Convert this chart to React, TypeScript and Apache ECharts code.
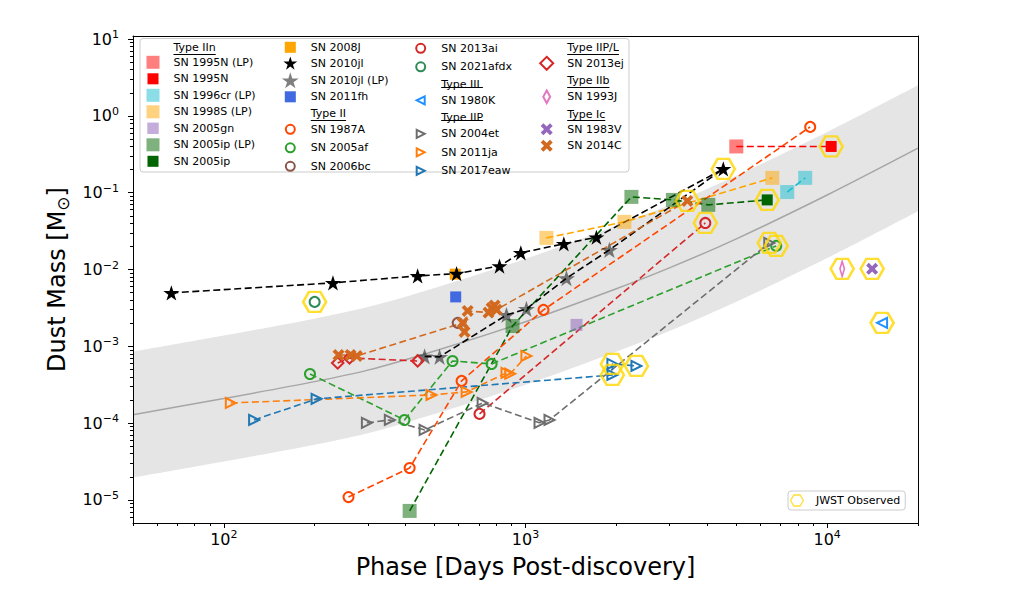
import React, { useEffect, useRef } from "react";
import * as echarts from "echarts";

const FONT = "'DejaVu Sans', 'Liberation Sans', sans-serif";

// ---------------- data: [days post-discovery, dust mass (Msun)] ----------------
const sn1995nLP = [[4997, 0.4]];
const sn1995n = [[10308, 0.4]];
const sn1996crLP = [[7371, 0.102], [8455, 0.156]];
const sn1998sLP = [[1173, 0.0258], [2127, 0.0417], [6577, 0.156]];
const sn2005gn = [[1476, 0.0019]];
const sn2005ipLP = [[413, 7.2e-6], [906, 0.00184], [2244, 0.0882], [3080, 0.0806], [4036, 0.0694]];
const sn2005ip = [[6327, 0.0806]];
const sn2008j = [[585, 0.0087]];
const sn2010jl = [[67, 0.00496], [230, 0.0067], [439, 0.00826], [591, 0.00885], [820, 0.0111], [965, 0.0165], [1340, 0.0216], [1718, 0.0263], [4525, 0.204]];
const sn2010jlLP = [[463, 7.4e-4], [519, 7.3e-4], [865, 0.00256], [1007, 0.00307], [1367, 0.0077], [1897, 0.018]];
const sn2011fh = [[587, 0.0044]];
const sn1987a = [[259, 1.09e-5], [413, 2.61e-5], [614, 3.55e-4], [1147, 0.00298], [8784, 0.719]];
const sn2005af = [[193, 4.37e-4], [397, 1.1e-4], [573, 6.45e-4], [772, 5.9e-4], [6777, 0.0203]];
const sn2006bc = [[596, 0.00202]];
const sn2013ai = [[704, 1.32e-4], [3945, 0.0404]];
const sn2021afdx = [[200, 0.00379]];
const sn1980k = [[15205, 0.00202]];
const sn2004et = [[298, 1.01e-4], [355, 1.1e-4], [463, 8.15e-5], [721, 1.83e-4], [1113, 1.01e-4], [1201, 1.1e-4], [6427, 0.0222]];
const sn2011ja = [[105.5, 1.83e-4], [488, 2.33e-4], [638, 2.55e-4], [865, 4.5e-4], [890, 4.4e-4], [1007, 7.5e-4]];
const sn2017eaw = [[126, 1.1e-4], [203, 2.07e-4], [1941, 4.24e-4], [1941, 5.9e-4], [2332, 5.56e-4]];
const sn2013ej = [[238.5, 6.08e-4], [261, 7.06e-4], [439, 6.45e-4]];
const sn1993j = [[11212, 0.0102]];
const sn1983v = [[14092, 0.0102]];
const sn2014c = [[240, 7.7e-4], [263, 7.7e-4], [276, 7.5e-4], [619, 0.00202], [628, 0.00154], [643, 0.00289], [754, 0.00275], [772, 0.00316], [790, 0.0034], [802, 0.003], [3440, 0.0782]];
const jwstObserved = [[200, 0.00379], [4525, 0.204], [10308, 0.4], [6327, 0.0806], [3440, 0.0782], [3945, 0.0404], [6777, 0.0203], [6427, 0.0222], [11212, 0.0102], [14092, 0.0102], [15205, 0.00202], [1941, 4.24e-4], [1941, 5.9e-4], [2332, 5.56e-4]];

// grey model curve and band
const bandDays = [50, 100, 200, 300, 500, 1000, 2000, 3000, 5000, 10000, 20000];
const bandCenter = [1.29e-4, 2.09e-4, 3.47e-4, 4.9e-4, 8.71e-4, 2.09e-3, 5.62e-3, 1.05e-2, 2.51e-2, 9.33e-2, 0.38];
const bandUpper = [8.51e-4, 1.38e-3, 2.29e-3, 3.24e-3, 5.75e-3, 1.38e-2, 3.72e-2, 6.92e-2, 0.166, 0.617, 2.51];
const bandLower = [1.95e-5, 3.16e-5, 5.25e-5, 7.41e-5, 1.32e-4, 3.16e-4, 8.51e-4, 1.58e-3, 3.8e-3, 1.41e-2, 5.75e-2];

// tick labels (powers of ten)
const xTickExps = [2, 3, 4];
const yTickExps = [-5, -4, -3, -2, -1, 0, 1];

// legend columns
const legendCol1 = ["Type IIn", "SN 1995N (LP)", "SN 1995N", "SN 1996cr (LP)", "SN 1998S (LP)", "SN 2005gn", "SN 2005ip (LP)", "SN 2005ip"];
const legendCol2 = ["SN 2008J", "SN 2010jl", "SN 2010jl (LP)", "SN 2011fh", "Type II", "SN 1987A", "SN 2005af", "SN 2006bc"];
const legendCol3 = ["SN 2013ai", "SN 2021afdx", "Type IIL", "SN 1980K", "Type IIP", "SN 2004et", "SN 2011ja", "SN 2017eaw"];
const legendCol4 = ["Type IIP/L", "SN 2013ej", "Type IIb", "SN 1993J", "Type Ic", "SN 1983V", "SN 2014C"];
const headings = ["Type IIn", "Type II", "Type IIL", "Type IIP", "Type IIP/L", "Type IIb", "Type Ic"];

// ---------------- helpers ----------------
const L = (v: number) => Math.log10(v);
const X_MIN = L(50);
const X_MAX = L(20000);
const Y_MIN = -5.3;
const Y_MAX = 1.04;

const SHAPES: Record<string, string> = {
  sq: "M-1 -1L1 -1L1 1L-1 1Z",
  circ: "M1 0A1 1 0 1 1 -1 0A1 1 0 1 1 1 0Z",
  star: "M0 -1L0.2245 -0.309L0.951 -0.309L0.363 0.118L0.588 0.809L0 0.382L-0.588 0.809L-0.363 0.118L-0.951 -0.309L-0.2245 -0.309Z",
  x: "M-0.55 -1L0 -0.45L0.55 -1L1 -0.55L0.45 0L1 0.55L0.55 1L0 0.45L-0.55 1L-1 0.55L-0.45 0L-1 -0.55Z",
  triR: "M-1 -1L1 0L-1 1Z",
  triL: "M1 -1L-1 0L1 1Z",
  diam: "M0 -1L1 0L0 1L-1 0Z",
  thin: "M0 -1L0.55 0L0 1L-0.55 0Z",
  hex: "M1 0L0.5 0.866L-0.5 0.866L-1 0L-0.5 -0.866L0.5 -0.866Z",
};

const HOLLOW = "rgba(0,0,0,0)";
const STYLES: Record<string, any> = {
  "SN 1995N (LP)": { sym: "sq", size: 14, fill: "rgba(255,0,0,0.5)", pad: 1.23 },
  "SN 1995N": { sym: "sq", size: 11, fill: "#ff0000", pad: 1.45 },
  "SN 1996cr (LP)": { sym: "sq", size: 14, fill: "rgba(23,190,207,0.5)", pad: 1.23 },
  "SN 1998S (LP)": { sym: "sq", size: 14, fill: "rgba(255,165,0,0.5)", pad: 1.23 },
  "SN 2005gn": { sym: "sq", size: 12, fill: "rgba(148,103,189,0.55)", pad: 1.4 },
  "SN 2005ip (LP)": { sym: "sq", size: 14, fill: "rgba(0,100,0,0.5)", pad: 1.23 },
  "SN 2005ip": { sym: "sq", size: 11, fill: "#006400", pad: 1.45 },
  "SN 2008J": { sym: "sq", size: 11, fill: "#ffa500", pad: 1.45 },
  "SN 2010jl": { sym: "star", size: 16, fill: "#000000", pad: 1.1 },
  "SN 2010jl (LP)": { sym: "star", size: 17, fill: "rgba(0,0,0,0.5)", pad: 0 },
  "SN 2011fh": { sym: "sq", size: 11, fill: "#4169e1", pad: 1.45 },
  "SN 1987A": { sym: "circ", size: 10, fill: HOLLOW, stroke: "#ff4500", bw: 2, pad: 1.78 },
  "SN 2005af": { sym: "circ", size: 10, fill: HOLLOW, stroke: "#2ca02c", bw: 2, pad: 1.78 },
  "SN 2006bc": { sym: "circ", size: 10, fill: HOLLOW, stroke: "#8c564b", bw: 2, pad: 1.78 },
  "SN 2013ai": { sym: "circ", size: 10, fill: HOLLOW, stroke: "#d62728", bw: 2, pad: 1.78 },
  "SN 2021afdx": { sym: "circ", size: 10, fill: HOLLOW, stroke: "#2e8b57", bw: 2, pad: 1.78 },
  "SN 1980K": { sym: "triL", size: 10, fill: HOLLOW, stroke: "#1e90ff", bw: 2, pad: 2 },
  "SN 2004et": { sym: "triR", size: 10, fill: HOLLOW, stroke: "#6e6e6e", bw: 2, pad: 2 },
  "SN 2011ja": { sym: "triR", size: 10, fill: HOLLOW, stroke: "#ff7f0e", bw: 2, pad: 2 },
  "SN 2017eaw": { sym: "triR", size: 10, fill: HOLLOW, stroke: "#1f77b4", bw: 2, pad: 2 },
  "SN 2013ej": { sym: "diam", size: 11.5, fill: HOLLOW, stroke: "#d62728", bw: 2, pad: 1.23 },
  "SN 1993J": { sym: "thin", size: [8, 15], fill: HOLLOW, stroke: "#e377c2", bw: 2, pad: 1.28 },
  "SN 1983V": { sym: "x", size: 12, fill: "#9467bd", pad: 1.33 },
  "SN 2014C": { sym: "x", size: 12, fill: "#d2691e", pad: 1.33 },
};

const symOf = (st: any) => (st.sym === "circ" ? "circle" : "path://" + SHAPES[st.sym]);
const padIcon = (d: string, p: number) => (p > 0 ? `path://M${-p} ${-p}M${p} ${p}${d}` : "path://" + d);

function makeSeries(name: string, pts: number[][], lineColor?: string, hidden?: number[]) {
  const st = STYLES[name];
  return {
    type: lineColor ? "line" : "scatter",
    name,
    data: pts.map((p, i) => {
      const v = [L(p[0]), L(p[1])];
      return hidden && hidden.indexOf(i) >= 0 ? { value: v, symbol: "none" } : v;
    }),
    symbol: symOf(st),
    symbolSize: st.size,
    symbolKeepAspect: true,
    itemStyle: { color: st.fill, borderColor: st.stroke || st.fill, borderWidth: st.bw || 0, opacity: 1 },
    lineStyle: lineColor ? { color: lineColor, width: 1.6, type: [7, 3.5] } : undefined,
    emphasis: { disabled: true },
    legendHoverLink: false,
    silent: true,
    z: 2,
  };
}

function legendItem(name: string) {
  const st = STYLES[name];
  if (!st) return { name, icon: "none" };
  return {
    name,
    icon: padIcon(SHAPES[st.sym], st.pad),
    itemStyle: { color: st.fill, borderColor: st.stroke || st.fill, borderWidth: st.bw || 0 },
  };
}

const supFmt = (v: number) => {
  const n = Math.round(v);
  return "{b|10}{s|" + (n < 0 ? "\u2212" + -n : String(n)) + "}";
};
const labelRich = {
  b: { fontSize: 16, fontFamily: FONT, color: "#000", lineHeight: 20 },
  s: { fontSize: 11, fontFamily: FONT, color: "#000", lineHeight: 13, verticalAlign: "top" },
};

function bandLine(values: number[], fill: string | null, z: number, stroke?: string) {
  return {
    type: "line",
    data: bandDays.map((d, i) => [L(d), L(values[i])]),
    symbol: "none",
    smooth: 0.3,
    lineStyle: stroke ? { color: stroke, width: 1.5 } : { width: 0, opacity: 0 },
    areaStyle: fill ? { color: fill, opacity: 1, origin: "start" } : undefined,
    silent: true,
    emphasis: { disabled: true },
    z,
  };
}

function buildOption() {
  const xMajor = xTickExps.slice();
  const yMajor = yTickExps.slice();
  const xMinor: number[] = [];
  for (let e = 1; e <= 4; e++)
    for (let k = 2; k <= 9; k++) {
      const v = e + Math.log10(k);
      if (v >= X_MIN - 1e-9 && v <= X_MAX + 1e-9) xMinor.push(v);
    }
  const yMinor: number[] = [];
  for (let e = -6; e <= 0; e++)
    for (let k = 2; k <= 9; k++) {
      const v = e + Math.log10(k);
      if (v >= Y_MIN && v <= Y_MAX) yMinor.push(v);
    }

  const axisLineStyle = { color: "#000", width: 1 };
  const blank = { axisLabel: { show: false }, splitLine: { show: false } };

  // legend geometry
  const legendLefts = [137.5, 274.8, 405.2, 531.2];
  const legendTop = 39.3;
  const rowPitch = 16.5;
  const cols = [legendCol1, legendCol2, legendCol3, legendCol4];

  const legends: any[] = cols.map((col, ci) => ({
    orient: "vertical",
    left: legendLefts[ci],
    top: legendTop,
    padding: 0,
    itemWidth: 31,
    itemHeight: 16,
    itemGap: 0.5,
    selectedMode: false,
    symbolKeepAspect: true,
    textStyle: { fontSize: 11, fontFamily: FONT, color: "#000", lineHeight: 13 },
    data: col.map(legendItem),
    z: 6,
  }));
  legends.push({
    orient: "vertical",
    left: 788,
    top: 491,
    padding: [3, 5, 3, 2],
    itemWidth: 28,
    itemHeight: 11,
    selectedMode: false,
    symbolKeepAspect: true,
    backgroundColor: "rgba(255,255,255,0.8)",
    borderColor: "#cccccc",
    borderWidth: 1,
    borderRadius: 3,
    textStyle: { fontSize: 11, fontFamily: FONT, color: "#000", lineHeight: 13 },
    data: [
      {
        name: "JWST Observed",
        icon: "path://" + SHAPES.hex,
        itemStyle: { color: HOLLOW, borderColor: "#ffd700", borderWidth: 1.3 },
      },
    ],
    z: 6,
  });

  // underlines for the heading entries
  const canvas = document.createElement("canvas");
  const ctx = canvas.getContext("2d")!;
  ctx.font = "11px 'DejaVu Sans'";
  const graphics: any[] = [
    {
      id: "legendFrame",
      type: "rect",
      shape: { x: 140, y: 38.5, width: 489, height: 133.5, r: 3 },
      style: { fill: "rgba(255,255,255,0.8)", stroke: "#cccccc", lineWidth: 1 },
      z: 3,
      silent: true,
    },
  ];
  cols.forEach((col, ci) => {
    col.forEach((name, ri) => {
      if (headings.indexOf(name) < 0) return;
      const x0 = legendLefts[ci] + 36;
      const w = ctx.measureText(name).width || name.length * 6;
      const y = Math.round(legendTop + 8 + ri * rowPitch + 7);
      graphics.push({
        id: "ul" + ci + "_" + ri,
        type: "rect",
        shape: { x: x0, y: y, width: w, height: 1 },
        style: { fill: "#000" },
        z: 8,
        silent: true,
      });
    });
  });

  const series: any[] = [
    bandLine(bandUpper, "#e5e5e5", 1),
    bandLine(bandLower, "#ffffff", 1),
    bandLine(bandCenter, null, 1, "#a6a6a6"),
    makeSeries("SN 1995N", sn1995nLP.concat(sn1995n), "#ff0000", [0]),
    makeSeries("SN 1995N (LP)", sn1995nLP),
    makeSeries("SN 1996cr (LP)", sn1996crLP, "#17becf"),
    makeSeries("SN 1998S (LP)", sn1998sLP, "#ffa500"),
    makeSeries("SN 2005gn", sn2005gn),
    makeSeries("SN 2005ip", sn2005ipLP.concat(sn2005ip), "#006400", [0, 1, 2, 3, 4]),
    makeSeries("SN 2005ip (LP)", sn2005ipLP),
    makeSeries("SN 2008J", sn2008j),
    makeSeries("SN 2010jl", sn2010jl, "#000000"),
    makeSeries("SN 2010jl (LP)", sn2010jlLP.concat([sn2010jl[sn2010jl.length - 1]]), "#000000", [sn2010jlLP.length]),
    makeSeries("SN 2011fh", sn2011fh),
    makeSeries("SN 1987A", sn1987a, "#ff4500"),
    makeSeries("SN 2005af", sn2005af, "#2ca02c"),
    makeSeries("SN 2006bc", sn2006bc),
    makeSeries("SN 2013ai", sn2013ai, "#d62728"),
    makeSeries("SN 2021afdx", sn2021afdx),
    makeSeries("SN 1980K", sn1980k),
    makeSeries("SN 2004et", sn2004et, "#6e6e6e"),
    makeSeries("SN 2011ja", sn2011ja, "#ff7f0e"),
    makeSeries("SN 2017eaw", sn2017eaw, "#1f77b4"),
    makeSeries("SN 2013ej", sn2013ej, "#d62728"),
    makeSeries("SN 1993J", sn1993j),
    makeSeries("SN 1983V", sn1983v),
    makeSeries("SN 2014C", sn2014c, "#d2691e"),
    {
      type: "scatter",
      name: "JWST Observed",
      data: jwstObserved.map((p) => [L(p[0]), L(p[1])]),
      symbol: "path://" + SHAPES.hex,
      symbolSize: [23, 20],
      itemStyle: { color: HOLLOW, borderColor: "#ffd700", borderWidth: 2.5 },
      emphasis: { disabled: true },
      silent: true,
      z: 3,
    },
  ];
  headings.forEach((h) => series.push({ type: "line", name: h, data: [], silent: true }));

  return {
    animation: false,
    backgroundColor: "#ffffff",
    textStyle: { fontFamily: FONT },
    grid: { left: 133, right: 97, top: 36, bottom: 84, containLabel: false, outerBoundsMode: "none" },
    legend: legends,
    graphic: { elements: graphics },
    xAxis: [
      {
        type: "value",
        min: X_MIN,
        max: X_MAX,
        position: "bottom",
        z: 10,
        axisLine: { show: true, onZero: false, lineStyle: axisLineStyle },
        axisTick: { show: true, length: 5, customValues: xMajor, lineStyle: axisLineStyle },
        axisLabel: { show: true, customValues: xMajor, margin: 6, formatter: supFmt, rich: labelRich, color: "#000", fontFamily: FONT, fontSize: 16 },
        splitLine: { show: false },
        name: "Phase [Days Post-discovery]",
        nameLocation: "middle",
        nameGap: 24,
        nameTextStyle: { fontFamily: FONT, fontSize: 24, color: "#000", lineHeight: 30 },
      },
      {
        type: "value",
        min: X_MIN,
        max: X_MAX,
        position: "bottom",
        z: 10,
        axisLine: { show: false, onZero: false },
        axisTick: { show: true, length: 3, customValues: xMinor, lineStyle: axisLineStyle },
        ...blank,
      },
      {
        type: "value",
        min: X_MIN,
        max: X_MAX,
        position: "top",
        z: 10,
        axisLine: { show: true, onZero: false, lineStyle: axisLineStyle },
        axisTick: { show: false },
        ...blank,
      },
    ],
    yAxis: [
      {
        type: "value",
        min: Y_MIN,
        max: Y_MAX,
        position: "left",
        z: 10,
        axisLine: { show: true, onZero: false, lineStyle: axisLineStyle },
        axisTick: { show: true, length: 5, customValues: yMajor, lineStyle: axisLineStyle },
        axisLabel: { show: true, customValues: yMajor, margin: 14, formatter: supFmt, rich: labelRich, color: "#000", fontFamily: FONT, fontSize: 16 },
        splitLine: { show: false },
        name: "Dust Mass [M{sub|\u2299}]",
        nameLocation: "middle",
        nameGap: 46,
        nameTextStyle: {
          fontFamily: FONT,
          fontSize: 24,
          color: "#000",
          lineHeight: 30,
          rich: { sub: { fontFamily: FONT, fontSize: 17, color: "#000", lineHeight: 22, verticalAlign: "bottom" } },
        },
      },
      {
        type: "value",
        min: Y_MIN,
        max: Y_MAX,
        position: "left",
        z: 10,
        axisLine: { show: false, onZero: false },
        axisTick: { show: true, length: 3, customValues: yMinor, lineStyle: axisLineStyle },
        ...blank,
      },
      {
        type: "value",
        min: Y_MIN,
        max: Y_MAX,
        position: "right",
        z: 10,
        axisLine: { show: true, onZero: false, lineStyle: axisLineStyle },
        axisTick: { show: false },
        ...blank,
      },
    ],
    series,
  };
}

export default function App() {
  const ref = useRef<HTMLDivElement>(null);
  useEffect(() => {
    if (!ref.current) return;
    const chart = echarts.init(ref.current, null, { renderer: "svg" });
    chart.setOption(buildOption() as any);
    return () => chart.dispose();
  }, []);
  return (
    <div
      ref={ref}
      style={{ position: "fixed", left: 0, top: 0, width: 1015, height: 607, background: "#fff" }}
    />
  );
}
